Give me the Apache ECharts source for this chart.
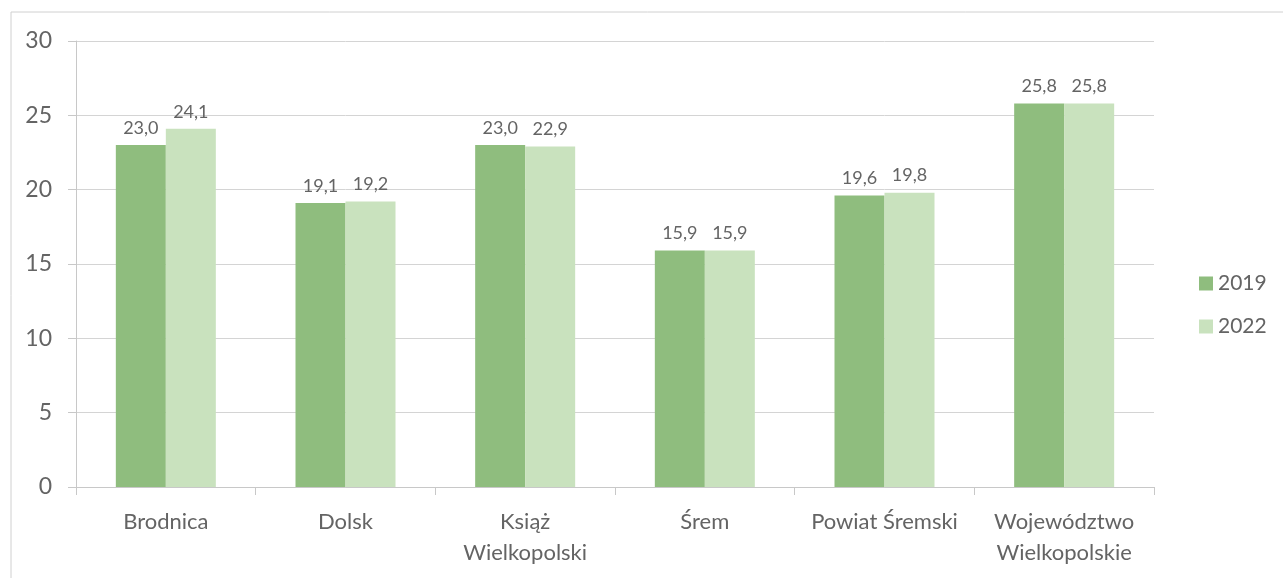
<!DOCTYPE html>
<html><head><meta charset="utf-8">
<script src="https://cdn.jsdelivr.net/npm/echarts@6/dist/echarts.min.js"></script>
<style>html,body{margin:0;padding:0;background:#fff}#c{width:1283px;height:578px}</style>
</head><body><div id="c"></div>
<script>
const categories = ['Brodnica', 'Dolsk', 'Książ\nWielkopolski', 'Śrem', 'Powiat Śremski', 'Województwo\nWielkopolskie'];
const seriesNames = ['2019', '2022'];
const values2019 = [23.0, 19.1, 23.0, 15.9, 19.6, 25.8];
const values2022 = [24.1, 19.2, 22.9, 15.9, 19.8, 25.8];
const yTicks = [0, 5, 10, 15, 20, 25, 30];

const chart = echarts.init(document.getElementById('c'));
const txt = '#646464';
const font = 'Lato';
const lbl = {
  show: true, position: 'top', distance: 8, color: txt, fontFamily: font, fontSize: 18,
  formatter: p => p.value.toFixed(1).replace('.', ',')
};
chart.setOption({
  animation: false,
  graphic: [{type: 'rect', shape: {x: 11, y: 12, width: 1290, height: 600},
    style: {fill: 'none', stroke: '#d0d0d0', lineWidth: 1}}],
  grid: {left: 76, right: 129, top: 41, bottom: 91},
  legend: {
    orient: 'vertical', left: 1194, top: 268, itemWidth: 14, itemHeight: 14, itemGap: 22,
    icon: 'rect', textStyle: {color: txt, fontFamily: font, fontSize: 21},
    data: seriesNames
  },
  xAxis: {
    type: 'category', data: categories,
    axisLine: {lineStyle: {color: '#c8c8c8'}},
    axisTick: {show: true, length: 8, lineStyle: {color: '#c8c8c8'}},
    axisLabel: {color: txt, fontFamily: font, fontSize: 22, margin: 19, lineHeight: 31, interval: 0}
  },
  yAxis: {
    type: 'value', min: yTicks[0], max: yTicks[yTicks.length - 1], interval: 5,
    axisLine: {show: true, lineStyle: {color: '#c8c8c8'}},
    axisTick: {show: true, length: 8, lineStyle: {color: '#c8c8c8'}},
    splitLine: {lineStyle: {color: '#d4d4d4'}},
    axisLabel: {color: txt, fontFamily: font, fontSize: 23, margin: 24}
  },
  series: [
    {name: seriesNames[0], type: 'bar', data: values2019, barWidth: 50, barGap: '0%',
      itemStyle: {color: '#8fbd7e'}, label: lbl},
    {name: seriesNames[1], type: 'bar', data: values2022, barWidth: 50,
      itemStyle: {color: '#c9e2be'}, label: lbl}
  ]
});
</script></body></html>
